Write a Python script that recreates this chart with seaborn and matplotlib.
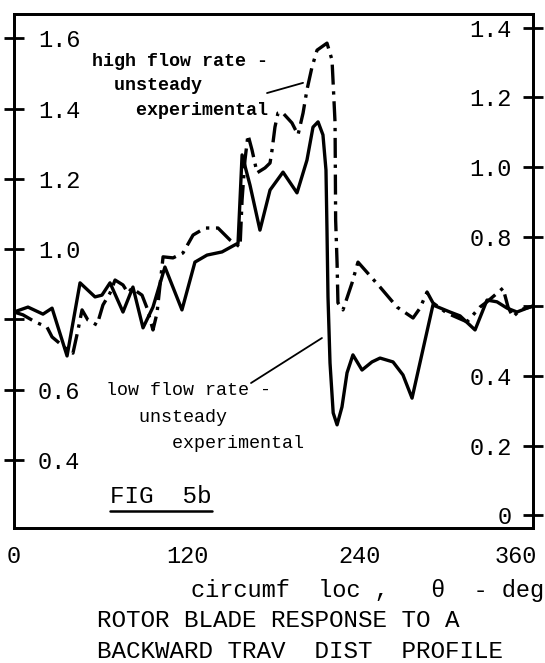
import matplotlib
matplotlib.use("Agg")
import matplotlib.pyplot as plt
import matplotlib.transforms as mtransforms
from matplotlib.lines import Line2D
import pandas as pd
import seaborn as sns

# circumferential location (deg) and blade response, low flow rate (solid)
theta_low = [0.0, 9.7, 20.1, 26.4, 36.8, 45.8, 56.2, 61.0, 66.6, 75.6, 82.5, 89.5,
             96.4, 104.7, 116.5, 125.5, 133.9, 144.3, 155.4, 158.2, 163.7, 170.6,
             177.6, 186.6, 196.3, 203.2, 207.4, 210.9, 214.3, 216.4, 217.1, 217.8,
             219.2, 221.4, 224.1, 227.5, 231.0, 235.1, 241.4, 248.3, 253.9, 262.9,
             269.8, 276.1, 290.6, 302.4, 309.4, 319.8, 328.1, 335.0, 342.0, 348.9,
             355.8, 360.0]
resp_low = [0.821, 0.835, 0.815, 0.832, 0.696, 0.904, 0.864, 0.869, 0.904, 0.821,
            0.892, 0.776, 0.835, 0.949, 0.827, 0.963, 0.983, 0.992, 1.017, 1.268,
            1.182, 1.054, 1.168, 1.219, 1.160, 1.253, 1.347, 1.362, 1.325, 1.225,
            1.054, 0.864, 0.676, 0.534, 0.500, 0.551, 0.648, 0.699, 0.656, 0.679,
            0.690, 0.679, 0.642, 0.576, 0.841, 0.821, 0.810, 0.770, 0.855, 0.850,
            0.832, 0.821, 0.832, 0.838]

# high flow rate (dash-dot)
theta_high = [0.0, 6.2, 14.6, 22.9, 26.4, 35.4, 40.9, 44.4, 47.2, 51.3, 57.6, 61.7,
              66.6, 70.1, 75.6, 79.1, 81.8, 88.8, 92.3, 96.4, 99.2, 103.4, 110.3,
              117.2, 124.2, 132.5, 141.5, 149.8, 156.8, 158.2, 160.2, 162.3, 165.1,
              168.6, 174.1, 177.6, 179.0, 181.0, 183.1, 185.9, 192.8, 197.0, 200.5,
              203.2, 206.7, 210.2, 217.1, 220.6, 222.7, 223.1, 224.1, 224.7, 228.2,
              234.5, 238.6, 253.9, 265.7, 276.8, 281.6, 286.5, 290.6, 300.3, 314.2,
              323.2, 328.1, 339.2, 342.7, 346.1, 351.0, 357.9, 360.0]
resp_high = [0.821, 0.813, 0.793, 0.778, 0.750, 0.719, 0.704, 0.770, 0.827, 0.798,
             0.784, 0.841, 0.875, 0.912, 0.898, 0.875, 0.889, 0.869, 0.832, 0.770,
             0.818, 0.978, 0.975, 0.989, 1.040, 1.060, 1.060, 1.026, 1.006, 1.140,
             1.253, 1.325, 1.282, 1.217, 1.231, 1.245, 1.282, 1.347, 1.387, 1.390,
             1.359, 1.325, 1.387, 1.453, 1.518, 1.566, 1.586, 1.538, 1.359, 1.083,
             0.960, 0.847, 0.827, 0.904, 0.963, 0.892, 0.835, 0.804, 0.832, 0.878,
             0.847, 0.818, 0.793, 0.835, 0.850, 0.889, 0.835, 0.807, 0.827, 0.835,
             0.838]

x_ticks = [0, 60, 120, 180, 240, 300, 360]
x_labels = ["0", "", "120", "", "240", "", "360"]
left_ticks = [0.4, 0.6, 0.8, 1.0, 1.2, 1.4, 1.6]
left_labels = ["0.4", "0.6", "", "1.0", "1.2", "1.4", "1.6"]
right_ticks = [0.0, 0.2, 0.4, 0.6, 0.8, 1.0, 1.2, 1.4]
right_labels = ["0", "0.2", "0.4", "", "0.8", "1.0", "1.2", "1.4"]

high_note = "high flow rate -\n  unsteady\n    experimental"
low_note = "low flow rate -\n   unsteady\n      experimental"
fig_tag = "FIG  5b"
x_title = "circumf  loc ,   \u03b8  - deg"
caption = "ROTOR BLADE RESPONSE TO A\nBACKWARD TRAV  DIST  PROFILE"

sns.set_style("white")
plt.rcParams["font.family"] = ["Liberation Mono", "DejaVu Sans Mono"]
plt.rcParams["axes.edgecolor"] = "black"
plt.rcParams["axes.labelcolor"] = "black"
plt.rcParams["text.color"] = "black"
plt.rcParams["xtick.color"] = "black"
plt.rcParams["ytick.color"] = "black"

fig = plt.figure(figsize=(5.45, 6.63), dpi=100)
ax = fig.add_axes([14 / 545, 135 / 663, 519 / 545, 514 / 663])

df = pd.concat([
    pd.DataFrame({"theta": theta_low, "response": resp_low, "flow": "low"}),
    pd.DataFrame({"theta": theta_high, "response": resp_high, "flow": "high"}),
], ignore_index=True)

sns.lineplot(data=df, x="theta", y="response", style="flow",
             dashes={"low": "", "high": (6, 2, 1, 2)}, color="black",
             linewidth=2.4, legend=False, ax=ax, estimator=None, sort=False)

ax.set_xlim(0, 360)
ax.set_ylim(0.2065, 1.6689)
ax.set_xticks(x_ticks, x_labels)
ax.set_yticks(left_ticks, left_labels)
ax.set_ylabel("")
for sp in ax.spines.values():
    sp.set_linewidth(2)
    sp.set_color("black")

ax.tick_params(axis="y", direction="inout", length=14, width=2,
               pad=-24.3, labelsize=17)
for lab in ax.get_yticklabels():
    lab.set_ha("left")
ax.tick_params(axis="x", direction="inout", length=13, width=2,
               pad=5.5, labelsize=17)
last = ax.get_xticklabels()[-1]
last.set_transform(last.get_transform() +
                   mtransforms.ScaledTranslation(-0.17, 0, fig.dpi_scale_trans))

ax2 = ax.twinx()
ax2.set_ylim(-0.037, 1.4397)
ax2.set_yticks(right_ticks, right_labels)
ax2.tick_params(axis="y", direction="inout", length=14, width=2,
                pad=-22.1, labelsize=17)
for lab in ax2.get_yticklabels():
    lab.set_ha("right")
for sp in ax2.spines.values():
    sp.set_linewidth(2)
    sp.set_color("black")

ax.set_xlabel(x_title, fontsize=17, ha="left", va="baseline", color="black")
ax.xaxis.set_label_coords(0.341, -0.1342)

# curve labels with leader lines (baseline of the last line is anchored)
ax.text(54.1, 1.381, high_note, fontsize=13.2, fontweight="bold",
        ha="left", va="baseline", linespacing=1.6)
ax.annotate("", xy=(200.5, 1.473), xytext=(175.5, 1.444),
            arrowprops=dict(arrowstyle="-", lw=1.3, color="black",
                            shrinkA=0, shrinkB=0))
ax.text(63.8, 0.434, low_note, fontsize=13.2,
        ha="left", va="baseline", linespacing=1.72)
ax.annotate("", xy=(213.6, 0.747), xytext=(164.4, 0.619),
            arrowprops=dict(arrowstyle="-", lw=1.3, color="black",
                            shrinkA=0, shrinkB=0))

tag = ax.text(66.6, 0.278, fig_tag, fontsize=17.5, ha="left", va="baseline")

fig.text(97 / 545, (663 - 658) / 663, caption, fontsize=17.5,
         ha="left", va="baseline", linespacing=1.42)

# underline the figure tag
fig.canvas.draw()
bb = tag.get_window_extent()
fig.add_artist(Line2D([bb.x0, bb.x1], [bb.y0 - 3, bb.y0 - 3],
                      transform=None, color="black", lw=1.8))

fig.savefig("out.png", dpi=100, facecolor="white")
